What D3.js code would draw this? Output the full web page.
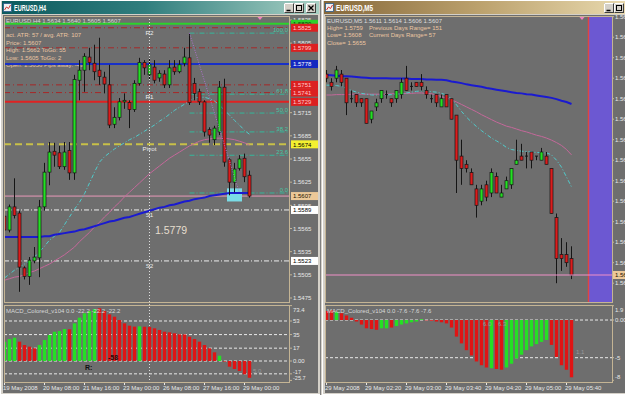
<!DOCTYPE html>
<html><head><meta charset="utf-8">
<script src="https://cdn.jsdelivr.net/npm/d3@7/dist/d3.min.js"></script>
<style>html,body{margin:0;padding:0;background:#d4d0c8;overflow:hidden}svg{display:block}</style>
</head><body>
<svg id="c" width="625" height="395"></svg>
<script>
// ================= DATA =================
// ---- EURUSD H4 (left window) ----
const h4Dates   = ['19 May 2008','20 May 08:00','21 May 16:00','23 May 00:00','26 May 08:00','27 May 16:00','29 May 00:00'];
const h4DateIdx = [0,8,16,24,32,40,48];
const h4Open  = [1.5581,1.5563,1.5593,1.5585,1.5514,1.5503,1.5523,1.5527,1.5593,1.5638,1.5665,1.5663,1.5645,1.5666,1.5637,1.5757,1.5770,1.5787,1.5779,1.5770,1.5761,1.5751,1.5700,1.5709,1.5729,1.5728,1.5719,1.5753,1.5780,1.5764,1.5774,1.5760,1.5765,1.5751,1.5774,1.5768,1.5779,1.5786,1.5753,1.5742,1.5729,1.5693,1.5680,1.5690,1.5748,1.5654,1.5625,1.5643,1.5656,1.5634];
const h4High  = [1.5586,1.5596,1.5630,1.5588,1.5516,1.5528,1.5541,1.5602,1.5650,1.5677,1.5676,1.5672,1.5677,1.5677,1.5764,1.5783,1.5792,1.5799,1.5803,1.5812,1.5768,1.5777,1.5722,1.5734,1.5740,1.5731,1.5757,1.5786,1.5783,1.5786,1.5783,1.5770,1.5770,1.5783,1.5783,1.5783,1.5799,1.5818,1.5760,1.5746,1.5731,1.5696,1.5698,1.5756,1.5759,1.5656,1.5650,1.5660,1.5662,1.5640];
const h4Low   = [1.5560,1.5560,1.5578,1.5483,1.5499,1.5492,1.5520,1.5502,1.5588,1.5621,1.5645,1.5642,1.5641,1.5628,1.5628,1.5731,1.5742,1.5770,1.5757,1.5751,1.5740,1.5695,1.5695,1.5705,1.5720,1.5695,1.5716,1.5750,1.5764,1.5757,1.5753,1.5755,1.5747,1.5747,1.5764,1.5766,1.5775,1.5725,1.5731,1.5725,1.5684,1.5676,1.5673,1.5686,1.5645,1.5608,1.5612,1.5640,1.5625,1.5605];
const h4Close = [1.5563,1.5593,1.5582,1.5515,1.5503,1.5524,1.5528,1.5593,1.5638,1.5664,1.5660,1.5645,1.5664,1.5637,1.5758,1.5770,1.5788,1.5780,1.5768,1.5762,1.5752,1.5699,1.5709,1.5729,1.5731,1.5719,1.5753,1.5780,1.5773,1.5777,1.5757,1.5766,1.5751,1.5773,1.5768,1.5777,1.5787,1.5728,1.5740,1.5729,1.5690,1.5686,1.5695,1.5748,1.5651,1.5625,1.5642,1.5655,1.5632,1.5607];
const h4MaBlue = [1.5554,1.5554,1.5554,1.5554,1.5554,1.5554,1.5554,1.5554,1.5555,1.5555,1.5557,1.5558,1.5559,1.5560,1.5561,1.5563,1.5564,1.5566,1.5568,1.5570,1.5572,1.5574,1.5575,1.5577,1.5579,1.5580,1.5582,1.5584,1.5586,1.5588,1.5590,1.5592,1.5593,1.5595,1.5596,1.5598,1.5600,1.5601,1.5603,1.5604,1.5605,1.5607,1.5608,1.5609,1.5610,1.5611,1.5611,1.5611,1.5611,1.5611];
const h4MaCyan = [1.5501,1.5506,1.5511,1.5515,1.5519,1.5523,1.5528,1.5535,1.5542,1.5550,1.5555,1.5560,1.5570,1.5580,1.5590,1.5599,1.5610,1.5624,1.5638,1.5651,1.5658,1.5663,1.5668,1.5672,1.5676,1.5680,1.5683,1.5687,1.5691,1.5695,1.5699,1.5704,1.5708,1.5713,1.5718,1.5722,1.5726,1.5730,1.5734,1.5735,1.5735,1.5733,1.5730,1.5725,1.5718,1.5712,1.5705,1.5699,1.5692,1.5687];
const h4MaPink = [1.5498,1.5500,1.5502,1.5503,1.5505,1.5508,1.5510,1.5513,1.5516,1.5519,1.5523,1.5527,1.5531,1.5536,1.5541,1.5548,1.5554,1.5560,1.5567,1.5573,1.5580,1.5586,1.5593,1.5599,1.5606,1.5612,1.5618,1.5624,1.5630,1.5636,1.5641,1.5646,1.5651,1.5656,1.5660,1.5664,1.5668,1.5672,1.5675,1.5678,1.5680,1.5681,1.5682,1.5682,1.5682,1.5681,1.5680,1.5678,1.5676,1.5673];
const h4Macd   = [25.6,29.1,30.9,25.6,21.2,19.0,16.8,21.2,27.8,34.4,38.8,39.7,42.4,42.0,49.9,57.4,63.2,66.2,68.9,69.8,66.2,61.8,58.7,54.3,49.9,46.8,45.5,45.9,45.4,45.2,43.3,41.1,38.8,38.0,36.7,35.4,35.2,32.2,29.1,25.6,21.2,16.8,11.5,7.0,-0.8,-7.5,-10.6,-13.2,-17.6,-22.2];
const h4MacdUp = [1,1,1,0,0,0,0,1,1,1,1,1,1,0,1,1,1,1,1,0,0,0,0,0,0,0,0,1,0,0,0,0,0,0,0,0,0,0,0,0,0,0,0,1,0,0,0,0,0,0];
const h4PriceTicks = [1.5835,1.5805,1.5775,1.5745,1.5715,1.5685,1.5655,1.5625,1.5595,1.5565,1.5535,1.5505,1.5475];
const h4MacdTicks  = [73.4,53,35,17,0,-17,-25.7];
const h4MacdTickText = ['73.4','53','35','17','0.00','-17','-25.7'];
const h4MacdGrid   = [53,35,17,0,-17];
const h4LevelValues = [1.5830,1.5825,1.5799,1.5778,1.5751,1.5741,1.5729,1.5674,1.5607,1.5589,1.5523];
const h4LevelKinds  = ['green','res','res','blue','res','res','red','pivot','bid','sup','sup'];
const pivotNames  = ['R2','R1','Pivot','S1','S2'];
const pivotValues = [1.5825,1.5741,1.5674,1.5589,1.5523];
const fibLevels = [100,61.8,50,38.2,23.6,0];
const fibLabels = ['100.0','61.8','50.0','38.2','23.6','0.0'];
const fibHigh = 1.5818, fibLow = 1.5611, fibFromIdx = 37, fibToIdx = 47;
const separatorIdx = 29;
const boxIdx = [45,47], boxPrice = [1.5617,1.5600];
const h4Info = ['act. ATR: 57 / avg. ATR: 107','Price: 1.5607','High:  1.5662   ToGo: 55','Low:   1.5605   ToGo: 2','Open: 1.5656   Pips away: -49'];
const h4Header = 'EURUSD,H4  1.5634 1.5640 1.5605 1.5607';
const h4MacdHeader = 'MACD_Colored_v104 0.0 -22.2 -22.2 -22.2';
const bigLabel = '1.5779';

// ---- EURUSD M5 (right window) ----
const m5Dates   = ['29 May 2008','29 May 02:20','29 May 03:00','29 May 03:40','29 May 04:20','29 May 05:00','29 May 05:40'];
const m5DateIdx = [0,8,16,24,32,40,48];
const m5Open  = [1.5656,1.5654,1.5655,1.5656,1.5655,1.5650,1.5651,1.5650,1.5650,1.5645,1.5648,1.5650,1.5651,1.5650,1.5650,1.5651,1.5655,1.5653,1.5654,1.5654,1.5652,1.5650,1.5651,1.5648,1.5651,1.5650,1.5646,1.5636,1.5634,1.5632,1.5628,1.5625,1.5629,1.5627,1.5631,1.5626,1.5628,1.5629,1.5634,1.5636,1.5636,1.5637,1.5636,1.5635,1.5636,1.5633,1.5621,1.5612,1.5612,1.5611];
const m5High  = [1.5657,1.5655,1.5658,1.5657,1.5655,1.5652,1.5651,1.5650,1.5650,1.5647,1.5650,1.5652,1.5652,1.5650,1.5652,1.5655,1.5658,1.5654,1.5654,1.5656,1.5653,1.5651,1.5651,1.5651,1.5651,1.5650,1.5646,1.5640,1.5635,1.5633,1.5629,1.5629,1.5630,1.5633,1.5632,1.5629,1.5631,1.5633,1.5640,1.5639,1.5637,1.5637,1.5636,1.5638,1.5637,1.5633,1.5622,1.5616,1.5615,1.5614];
const m5Low   = [1.5654,1.5652,1.5654,1.5653,1.5646,1.5649,1.5648,1.5648,1.5644,1.5644,1.5647,1.5649,1.5650,1.5648,1.5649,1.5650,1.5652,1.5652,1.5653,1.5652,1.5650,1.5649,1.5648,1.5648,1.5648,1.5645,1.5627,1.5629,1.5632,1.5629,1.5621,1.5624,1.5625,1.5626,1.5627,1.5626,1.5628,1.5628,1.5634,1.5635,1.5633,1.5633,1.5635,1.5635,1.5634,1.5622,1.5605,1.5608,1.5609,1.5606];
const m5Close = [1.5655,1.5653,1.5657,1.5654,1.5649,1.5650,1.5649,1.5649,1.5644,1.5647,1.5649,1.5652,1.5651,1.5649,1.5652,1.5654,1.5652,1.5653,1.5653,1.5653,1.5651,1.5650,1.5649,1.5650,1.5648,1.5645,1.5635,1.5633,1.5633,1.5629,1.5624,1.5628,1.5626,1.5632,1.5627,1.5627,1.5630,1.5633,1.5635,1.5635,1.5636,1.5635,1.5636,1.5637,1.5634,1.5622,1.5611,1.5611,1.5610,1.5607];
const m5MaBlue = [1.56558,1.56557,1.56556,1.56555,1.56555,1.56554,1.56553,1.56552,1.56551,1.56550,1.56550,1.56550,1.56550,1.56549,1.56549,1.56549,1.56549,1.56548,1.56548,1.56548,1.56547,1.56547,1.56546,1.56546,1.56545,1.56542,1.56540,1.56538,1.56535,1.56533,1.56531,1.56529,1.56526,1.56524,1.56522,1.56520,1.56518,1.56516,1.56514,1.56513,1.56511,1.56510,1.56508,1.56506,1.56504,1.56502,1.56499,1.56495,1.56492,1.56487];
const m5MaCyan = [1.56533,1.56533,1.56532,1.56530,1.56525,1.56520,1.56516,1.56513,1.56511,1.56509,1.56509,1.56509,1.56509,1.56510,1.56511,1.56512,1.56514,1.56516,1.56518,1.56519,1.56518,1.56517,1.56516,1.56513,1.56509,1.56499,1.56485,1.56469,1.56455,1.56443,1.56432,1.56422,1.56413,1.56404,1.56397,1.56390,1.56381,1.56376,1.56374,1.56372,1.56371,1.56370,1.56369,1.56368,1.56368,1.56363,1.56350,1.56333,1.56309,1.56285];
const m5MaPink = [1.56509,1.56509,1.56510,1.56510,1.56510,1.56511,1.56511,1.56511,1.56511,1.56511,1.56511,1.56511,1.56511,1.56512,1.56512,1.56512,1.56513,1.56513,1.56514,1.56514,1.56513,1.56512,1.56509,1.56505,1.56502,1.56497,1.56492,1.56486,1.56480,1.56474,1.56468,1.56461,1.56455,1.56449,1.56443,1.56438,1.56433,1.56430,1.56426,1.56422,1.56419,1.56415,1.56411,1.56408,1.56404,1.56399,1.56393,1.56386,1.56376,1.56363];
const m5Macd   = [1.2,1.3,1.1,0.9,0.6,0.3,-0.2,-0.6,-1.1,-1.2,-1.3,-1.1,-1.1,-1.0,-0.8,-0.6,-0.45,-0.3,-0.2,0.1,-0.05,-0.1,-0.2,-0.3,-0.45,-1.0,-2.2,-3.1,-4.0,-4.7,-5.5,-6.0,-6.3,-6.4,-6.5,-6.6,-6.3,-5.8,-5.1,-4.6,-4.0,-3.5,-3.2,-2.9,-2.65,-3.3,-4.9,-6.0,-6.6,-7.6];
const m5MacdUp = [0,0,1,0,0,0,0,0,0,0,0,1,1,0,1,1,1,1,1,1,0,0,0,0,0,0,0,0,0,0,0,0,0,1,0,0,1,1,1,1,1,1,1,1,1,0,0,0,0,0];
const m5PriceTicks = [1.5670,1.5665,1.5660,1.5655,1.5650,1.5645,1.5640,1.5635,1.5630,1.5625,1.5620,1.5615,1.5610,1.5605];
const m5MacdTicks  = [1.9,0,-5,-8];
const m5MacdTickText = ['1.9','0.00','-5','-8'];
const m5MacdGrid = [0,-5];
const m5Bid = 1.5607;
const m5Header = 'EURUSD,M5  1.5611 1.5614 1.5606 1.5607';
const m5Info = [['High= 1.5759','Previous Days Range= 151'],['Low= 1.5608','Current Days Range= 57'],['Close= 1.5655','']];
const m5MacdHeader = 'MACD_Colored_v104 0.0 -7.6 -7.6 -7.6';
const m5SessionStartIdx = 52;   // shaded zone start (bar index)

// ================= RENDER =================
const W=625,H=395;
const svg=d3.select('#c');
const F="'Liberation Sans', Arial, Helvetica, sans-serif";
const C={frame:'#d4d0c8',bg:'#6e6e6e',border:'#c4b494',text:'#e8e8e8',info:'#ecc6a2',up:'#24e024',dn:'#dc1c1c',wick:'#151515'};

svg.append('rect').attr('width',W).attr('height',H).attr('fill',C.frame);
const defs=svg.append('defs');
function grad(id,stops){const g=defs.append('linearGradient').attr('id',id).attr('x1',0).attr('x2',1).attr('y1',0).attr('y2',0);stops.forEach(s=>g.append('stop').attr('offset',s[0]).attr('stop-color',s[1]));}
grad('gl',[[0,'#0c5a5e'],[0.45,'#307e7e'],[1,'#a8d0c4']]);
grad('gr',[[0,'#86683a'],[0.5,'#bca26e'],[1,'#ecdeb4']]);
function clip(id,x,y,w,h){defs.append('clipPath').attr('id',id).append('rect').attr('x',x).attr('y',y).attr('width',w).attr('height',h);}
clip('cLm',4,16,286,286); clip('cLd',4,305,286,77);
clip('cRm',325,16,287,286); clip('cRd',325,305,287,77);

function txt(g,x,y,s,o={}){const t=g.append('text').attr('x',x).attr('y',y).text(s)
  .attr('font-family',o.ff||F).attr('font-size',o.fs||6).attr('fill',o.fill||C.text);
  if(o.anchor)t.attr('text-anchor',o.anchor); if(o.bold)t.attr('font-weight','bold'); if(o.op!=null)t.attr('opacity',o.op);
  if(o.len)t.attr('textLength',o.len).attr('lengthAdjust','spacingAndGlyphs'); return t;}
function hline(g,x1,x2,y,stroke,w,dash){const l=g.append('line').attr('x1',x1).attr('x2',x2).attr('y1',y).attr('y2',y).attr('stroke',stroke).attr('stroke-width',w);if(dash)l.attr('stroke-dasharray',dash);return l;}

function chrome(x0,x1,gid,title,tlen,btnXs,glyphs){
  const g=svg.append('g');
  g.append('rect').attr('x',x0+0.5).attr('y',0.5).attr('width',x1-x0-1).attr('height',H-1).attr('fill',C.frame).attr('stroke','#ffffff').attr('stroke-width',1);
  g.append('line').attr('x1',x1-0.5).attr('x2',x1-0.5).attr('y1',0).attr('y2',H).attr('stroke','#808080');
  g.append('rect').attr('x',x0+2).attr('y',1).attr('width',x1-x0-4).attr('height',13).attr('fill',`url(#${gid})`);
  g.append('rect').attr('x',x0+3.5).attr('y',3.5).attr('width',8).attr('height',8).attr('fill','#f2f2f2').attr('stroke','#2a5a8a').attr('stroke-width',0.8);
  g.append('path').attr('d',`M${x0+4.5},10 L${x0+6.5},7 L${x0+8.5},8.5 L${x0+10.5},5`).attr('stroke','#d03030').attr('fill','none').attr('stroke-width',1);
  txt(g,x0+14,11,title,{fs:9,bold:true,fill:'#ffffff',len:tlen});
  btnXs.forEach((bx,k)=>{
    g.append('rect').attr('x',bx+0.5).attr('y',3.5).attr('width',9).attr('height',9).attr('fill',C.frame).attr('stroke','#404040').attr('stroke-width',1);
    g.append('path').attr('d',`M${bx+0.5},12.5 V3.5 H${bx+9.5}`).attr('stroke','#ffffff').attr('fill','none');
    const gl=glyphs[k];
    if(gl==='min') g.append('line').attr('x1',bx+2.5).attr('x2',bx+6.5).attr('y1',10.5).attr('y2',10.5).attr('stroke','#000').attr('stroke-width',1.5);
    if(gl==='max') g.append('rect').attr('x',bx+2.5).attr('y',5.5).attr('width',5).attr('height',5).attr('fill','none').attr('stroke','#000').attr('stroke-width',1);
    if(gl==='close') g.append('path').attr('d',`M${bx+2.5},5.5 L${bx+7.5},10.5 M${bx+7.5},5.5 L${bx+2.5},10.5`).attr('stroke','#000').attr('stroke-width',1.3);
  });
  g.append('rect').attr('x',x0+3).attr('y',15).attr('width',Math.min(x1,W)-x0-6+(x1>W?3:0)).attr('height',378).attr('fill',C.bg);
  return g;
}
chrome(0,321,'gl','EURUSD,H4',32,[284,294,306],['min','max','close']);
chrome(322,640,'gr','EURUSD,M5',37,[604,614],['min','max']);

function candles(g,x,y,O,Hh,L,Cc){
  const idx=d3.range(O.length);
  g.append('g').selectAll('line').data(idx).join('line')
    .attr('x1',i=>x(i)).attr('x2',i=>x(i)).attr('y1',i=>y(Hh[i])).attr('y2',i=>y(L[i]))
    .attr('stroke',C.wick).attr('stroke-width',1);
  g.append('g').selectAll('rect').data(idx).join('rect')
    .attr('x',i=>x(i)-1.5).attr('width',3)
    .attr('y',i=>Cc[i]===O[i]?y(O[i])-0.5:y(Math.max(O[i],Cc[i])))
    .attr('height',i=>Cc[i]===O[i]?1:Math.abs(y(O[i])-y(Cc[i])))
    .attr('fill',i=>Cc[i]>O[i]?C.up:(Cc[i]<O[i]?C.dn:C.wick))
    .attr('stroke',C.wick).attr('stroke-width',i=>Cc[i]===O[i]?0:0.7);
}
function maLine(g,x,y,vals,stroke,w,dash){
  const p=g.append('path').attr('d',d3.line().x((d,i)=>x(i)).y(d=>y(d))(vals)).attr('fill','none').attr('stroke',stroke).attr('stroke-width',w);
  if(dash)p.attr('stroke-dasharray',dash); return p;
}
function macdBars(g,x,y,vals,up){
  g.append('g').selectAll('rect').data(d3.range(vals.length)).join('rect')
    .attr('x',i=>x(i)-1.7).attr('width',3.4)
    .attr('y',i=>y(Math.max(0,vals[i]))).attr('height',i=>Math.abs(y(vals[i])-y(0)))
    .attr('fill',i=>up[i]?C.up:'#e01414');
}
function border(g,x,y,w,h){g.append('rect').attr('x',x+0.5).attr('y',y+0.5).attr('width',w-1).attr('height',h-1).attr('fill','none').attr('stroke',C.border).attr('stroke-width',1);}

// ================= LEFT (H4) =================
const xL=d3.scaleLinear().domain([0,49]).range([4.5,249.5]);
const yL=d3.scaleLinear().domain([1.5475,1.5835]).range([298,20]);
const yLm=d3.scaleLinear().domain([-25.7,73.4]).range([380.4,305.6]);
const levelStyle={green:{s:'#2cd22c',w:2,d:null},res:{s:'#a62828',w:1,d:'6,3,1,3'},blue:{s:'#1830c8',w:2,d:null},
  red:{s:'#e02222',w:2,d:null},pivot:{s:'#c8c048',w:2,d:'7,4'},bid:{s:'#e898b8',w:1,d:null},sup:{s:'#eeeeee',w:1,d:'5,2,1,2'}};
const labelStyle={green:{bg:'#2cd22c',fg:'#0a3a0a'},res:{bg:'#dc2020',fg:'#ffcaca'},blue:{bg:'#1428c0',fg:'#ffffff'},
  red:{bg:'#dc2020',fg:'#ffcaca'},pivot:{bg:'#f4f030',fg:'#000000'},bid:{bg:'#ecc898',fg:'#201000'},sup:{bg:'#ffffff',fg:'#000000'}};

const Lm=svg.append('g').attr('clip-path','url(#cLm)');
svg.append('line').attr('x1',xL(separatorIdx)).attr('x2',xL(separatorIdx)).attr('y1',16).attr('y2',382).attr('stroke','#e0e0e0').attr('stroke-width',1).attr('stroke-dasharray','1,2');
txt(Lm,6,23,h4Header,{fill:'#dcdcdc'});
h4Info.forEach((s,k)=>txt(Lm,6,37+k*7.5,s,{fill:C.info}));
h4LevelValues.forEach((v,k)=>{const st=levelStyle[h4LevelKinds[k]];hline(Lm,4,290,yL(v),st.s,st.w,st.d);});
const fibPrice=l=>fibLow+(fibHigh-fibLow)*l/100;
fibLevels.forEach((l,k)=>{hline(Lm,xL(fibFromIdx),290,yL(fibPrice(l)),'#34b89c',1,'5,2,1,2');
  txt(Lm,288,yL(fibPrice(l))-1.2,fibLabels[k],{fill:'#44c8a4',anchor:'end'});});
Lm.append('rect').attr('x',xL(boxIdx[0])-2.5).attr('y',yL(boxPrice[0])).attr('width',xL(boxIdx[1])-xL(boxIdx[0])+5).attr('height',yL(boxPrice[1])-yL(boxPrice[0])).attr('fill','#7adce6');
maLine(Lm,xL,yL,h4MaPink,'#c4689a',1,null);
maLine(Lm,xL,yL,h4MaCyan,'#50cccc',1,'4,2,1,2');
maLine(Lm,xL,yL,h4MaBlue,'#1a1ad0',2,null);
candles(Lm,xL,yL,h4Open,h4High,h4Low,h4Close);
Lm.append('line').attr('x1',xL(fibFromIdx)).attr('y1',yL(fibHigh)).attr('x2',xL(fibToIdx)).attr('y2',yL(fibLow)).attr('stroke','#b070d0').attr('stroke-width',1).attr('stroke-dasharray','1,1.5');
pivotNames.forEach((n,k)=>txt(Lm,xL(separatorIdx),yL(pivotValues[k])+6.8,n,{anchor:'middle',fs:6.2,fill:'#ececec'}));
txt(Lm,155,234,bigLabel,{fs:10.5,fill:'#e6dece'});
svg.append('path').attr('d','M257,16.5 L263,16.5 L260,20 Z').attr('fill','#f080c0');
border(svg,4,16,286,287);
const La=svg.append('g');
// tick labels fully hidden by a price box are not drawn (they are covered in the reference too)
const coveredL=v=>h4LevelValues.some(l=>Math.abs(yL(l)-yL(v))<3);
h4PriceTicks.forEach(v=>{const y=yL(v);La.append('line').attr('x1',290).attr('x2',292).attr('y1',y).attr('y2',y).attr('stroke',C.border);
  if(!coveredL(v))txt(La,293,y+2.2,d3.format('.4f')(v));});
h4LevelValues.forEach((v,k)=>{const st=labelStyle[h4LevelKinds[k]],y=yL(v);
  La.append('rect').attr('x',291).attr('y',y-4).attr('width',27).attr('height',8).attr('fill',st.bg);
  txt(La,293,y+2.2,d3.format('.4f')(v),{fill:st.fg});});

const Ld=svg.append('g').attr('clip-path','url(#cLd)');
h4MacdGrid.forEach(v=>hline(Ld,4,290,yLm(v),'#e8e8e8',1,'3,2'));
macdBars(Ld,xL,yLm,h4Macd,h4MacdUp);
txt(Ld,6,313,h4MacdHeader,{fill:'#d8d8d8'});
txt(Ld,85,369.5,'R:',{fs:7,bold:true,fill:'#101010'});
txt(Ld,108,359.5,'-58',{fs:7,bold:true,fill:'#2a0808'});
txt(Ld,253,373,'5.0',{fill:'#9a9a9a'});
border(svg,4,305,286,78);
const macdShiftL=[4,0,0,0,0,-2,-2.6];
h4MacdTicks.forEach((v,k)=>{const y=yLm(v)+macdShiftL[k];
  La.append('line').attr('x1',290).attr('x2',292).attr('y1',yLm(v)).attr('y2',yLm(v)).attr('stroke',C.border);
  txt(La,293,y+2.2,h4MacdTickText[k],{fs:k>=5?5.5:6});});
h4DateIdx.forEach((i,k)=>{La.append('line').attr('x1',xL(i)).attr('x2',xL(i)).attr('y1',383).attr('y2',385).attr('stroke','#e8e8e8');
  txt(La,xL(i)-1.5,390,h4Dates[k]);});

// ================= RIGHT (M5) =================
const xR=d3.scaleLinear().domain([0,49]).range([326.5,571.5]);
const yR=d3.scaleLinear().domain([1.5605,1.5670]).range([283.2,16.7]);
const yRm=d3.scaleLinear().domain([-8,1.9]).range([380.3,305.7]);
const Rm=svg.append('g').attr('clip-path','url(#cRm)');
const zx=xR(m5SessionStartIdx)+2;
Rm.append('rect').attr('x',zx).attr('y',16).attr('width',612-zx).attr('height',286).attr('fill','#6c58d2');
Rm.append('line').attr('x1',zx).attr('x2',zx).attr('y1',16).attr('y2',302).attr('stroke','#e04444').attr('stroke-width',1.5);
txt(Rm,327,22.7,m5Header,{fill:'#dcdcdc'});
m5Info.forEach((r,k)=>{txt(Rm,327,29.6+k*7.5,r[0],{fill:C.info});if(r[1])txt(Rm,369,29.6+k*7.5,r[1],{fill:C.info});});
maLine(Rm,xR,yR,m5MaPink,'#c4689a',1,null);
maLine(Rm,xR,yR,m5MaCyan,'#50cccc',1,'4,2,1,2');
maLine(Rm,xR,yR,m5MaBlue,'#1a1ad0',2,null);
candles(Rm,xR,yR,m5Open,m5High,m5Low,m5Close);
hline(Rm,325,612,yR(m5Bid),'#f090c8',1,null);
svg.append('path').attr('d','M579,16.5 L585,16.5 L582,20 Z').attr('fill','#f080c0');
border(svg,325,16,288,287);
const Ra=svg.append('g');
m5PriceTicks.forEach(v=>{const y=yR(v);Ra.append('line').attr('x1',612).attr('x2',614).attr('y1',y).attr('y2',y).attr('stroke',C.border);txt(Ra,615,y+2.2,d3.format('.4f')(v));});
Ra.append('rect').attr('x',613).attr('y',yR(m5Bid)-4).attr('width',14).attr('height',8).attr('fill','#ecc898');
txt(Ra,615,yR(m5Bid)+2.2,d3.format('.4f')(m5Bid),{fill:'#201000'});
const Rd=svg.append('g').attr('clip-path','url(#cRd)');
m5MacdGrid.forEach(v=>hline(Rd,325,612,yRm(v),'#e8e8e8',1,'3,2'));
macdBars(Rd,xR,yRm,m5Macd,m5MacdUp);
txt(Rd,327,313,m5MacdHeader,{fill:'#d8d8d8'});
txt(Rd,483,326,'6.0',{fill:'#9a9a9a'});txt(Rd,498,326,'6.3',{fill:'#9a9a9a'});txt(Rd,576,354,'1.1',{fill:'#9a9a9a'});
border(svg,325,305,288,78);
m5MacdTicks.forEach((v,k)=>{let y=yRm(v);if(k===0)y+=4;if(k===m5MacdTicks.length-1)y-=3.5;
  Ra.append('line').attr('x1',612).attr('x2',614).attr('y1',yRm(v)).attr('y2',yRm(v)).attr('stroke',C.border);
  txt(Ra,615,y+2.2,m5MacdTickText[k]);});
m5DateIdx.forEach((i,k)=>{Ra.append('line').attr('x1',xR(i)).attr('x2',xR(i)).attr('y1',383).attr('y2',385).attr('stroke','#e8e8e8');
  txt(Ra,xR(i)-1.5,390,m5Dates[k]);});
</script></body></html>
